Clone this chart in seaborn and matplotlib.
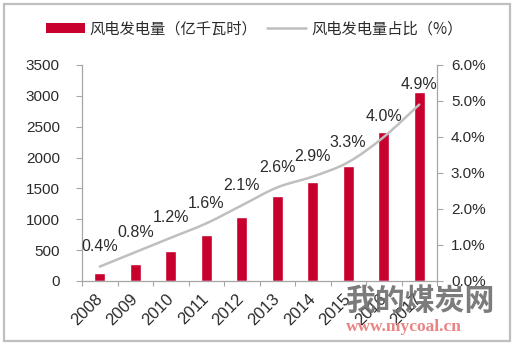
import numpy as np
import pandas as pd
import matplotlib
matplotlib.use("Agg")
import matplotlib.pyplot as plt
from matplotlib.path import Path
from matplotlib.patches import PathPatch, Patch, Rectangle
from matplotlib.lines import Line2D
from matplotlib.ticker import FuncFormatter, MultipleLocator
import seaborn as sns

# Wind power generation (100 million kWh) and its share of total generation (%)
years = ["2008", "2009", "2010", "2011", "2012", "2013", "2014", "2015", "2016", "2017"]
generation = [128, 276, 494, 741, 1030, 1383, 1598, 1856, 2410, 3057]
share = [0.4, 0.8, 1.2, 1.6, 2.1, 2.6, 2.9, 3.3, 4.0, 4.9]

legend_labels = ["风电发电量（亿千瓦时）", "风电发电量占比（%）"]

RED = "#C8002D"
LINE_GRAY = "#BFBFBF"
AXIS_GRAY = "#A6A6A6"
TEXT = "#2B2B2B"

sns.set_style("white")
plt.rcParams["font.family"] = ["Liberation Sans", "Noto Sans CJK SC", "DejaVu Sans"]

W, H = 513, 344
fig = plt.figure(figsize=(W / 100, H / 100), dpi=100)
ax = fig.add_axes([82 / W, 63 / H, 355 / W, 216 / H])

df = pd.DataFrame({"year": years, "generation": generation})
sns.barplot(data=df, x="year", y="generation", color=RED, saturation=1,
            width=0.31, ax=ax, zorder=2)

ax.set_xlim(-0.5, len(years) - 0.5)
ax.set_ylim(0, 3500)
ax.yaxis.set_major_locator(MultipleLocator(500))
ax.set_xlabel("")
ax.set_ylabel("")

# category boundary ticks on the x axis
ax.set_xticks(np.arange(-0.5, len(years), 1), minor=True)
ax.tick_params(axis="x", which="minor", length=3.5, width=0.8, color=AXIS_GRAY,
               direction="out", bottom=True)
ax.tick_params(axis="x", which="major", length=0, pad=11, labelsize=12,
               labelcolor=TEXT)
for lbl in ax.get_xticklabels():
    lbl.set_rotation(45)
    lbl.set_ha("right")
    lbl.set_va("center")
    lbl.set_rotation_mode("anchor")
ax.tick_params(axis="y", which="major", length=4, width=0.8, color=AXIS_GRAY,
               direction="out", left=True, pad=12, labelsize=11, labelcolor=TEXT)

for side in ["top", "right"]:
    ax.spines[side].set_visible(False)
for side in ["left", "bottom"]:
    ax.spines[side].set_color(AXIS_GRAY)
    ax.spines[side].set_linewidth(0.9)

# share on the secondary axis
ax2 = ax.twinx()
ax2.set_ylim(0, 6)
ax2.yaxis.set_major_locator(MultipleLocator(1))
ax2.yaxis.set_major_formatter(FuncFormatter(lambda v, _: f"{v:.1f}%"))
ax2.tick_params(axis="y", which="major", length=4, width=0.8, color=AXIS_GRAY,
                direction="out", right=True, pad=6, labelsize=11, labelcolor=TEXT)
for side in ["top", "left", "bottom"]:
    ax2.spines[side].set_visible(False)
ax2.spines["right"].set_color(AXIS_GRAY)
ax2.spines["right"].set_linewidth(0.9)

# smoothed line through the share values (Catmull-Rom as cubic Bezier)
xs = np.arange(len(share), dtype=float)
ys = np.array(share, dtype=float)
pts = np.column_stack([xs, ys])
ext = np.vstack([pts[0], pts, pts[-1]])
verts = [tuple(pts[0])]
codes = [Path.MOVETO]
for i in range(len(pts) - 1):
    p0, p1, p2, p3 = ext[i], ext[i + 1], ext[i + 2], ext[i + 3]
    c1 = p1 + (p2 - p0) / 6.0
    c2 = p2 - (p3 - p1) / 6.0
    verts += [tuple(c1), tuple(c2), tuple(p2)]
    codes += [Path.CURVE4] * 3
ax2.add_patch(PathPatch(Path(verts, codes), facecolor="none",
                        edgecolor=LINE_GRAY, lw=1.8, capstyle="round", zorder=3))

for x, v in zip(xs, share):
    ax2.annotate(f"{v:.1f}%", (x, v), xytext=(0, 14.5), textcoords="offset points",
                 ha="center", va="center", fontsize=11.5, color=TEXT, zorder=4)

# legend across the top
handles = [Patch(facecolor=RED, edgecolor="none"),
           Line2D([], [], color=LINE_GRAY, lw=1.8)]
fig.legend(handles=handles, labels=legend_labels, loc="center",
           bbox_to_anchor=(254 / W, 1 - 29 / H), ncol=2, frameon=False,
           prop={"family": "Noto Sans CJK SC", "size": 11},
           labelcolor=TEXT, handlelength=2.55, handleheight=0.55,
           handletextpad=0.35, columnspacing=0.6)

# site watermark
fig.text(345 / W, 1 - 301 / H, "我的煤炭网", fontsize=21.5, color="#6E6E6E",
         family="Noto Sans CJK SC", weight="bold", ha="left", va="center",
         alpha=0.9, zorder=10)
fig.text(346 / W, 1 - 327 / H, "www.mycoal.cn", fontsize=12.5, color="#E88484",
         family="Liberation Serif", weight="bold", ha="left", va="center",
         zorder=10)

# outer frame
fig.patches.append(Rectangle((4 / W, 3 / H), 506 / W, 337 / H,
                             transform=fig.transFigure, fill=False,
                             edgecolor="#BFBFBF", lw=1.6))

fig.savefig("out.png", dpi=100)
